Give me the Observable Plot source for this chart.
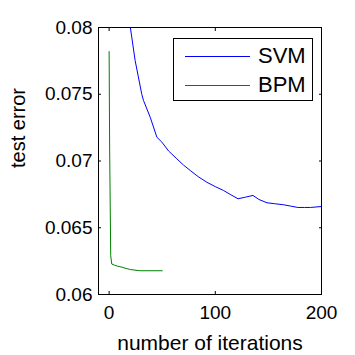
<!DOCTYPE html>
<html>
<head>
<meta charset="utf-8">
<script src="https://cdn.jsdelivr.net/npm/d3@7"></script>
<script src="https://cdn.jsdelivr.net/npm/@observablehq/plot@0.6"></script>
<style>
  html, body { margin: 0; padding: 0; background: #fff; }
  #wrap { position: relative; width: 355px; height: 355px; font-family: "Liberation Sans", Arial, Helvetica, sans-serif; }
  #legend { position: absolute; left: 173px; top: 38px; width: 140px; height: 63px; border: 1px solid #000; background: #fff; box-sizing: border-box; }
  .item { position: absolute; left: 0; height: 28px; width: 100%; }
  .item .ln { position: absolute; left: 11px; width: 65px; height: 0; border-top: 1px solid; top: 50%; }
  .item .tx { position: absolute; left: 84px; font-size: 22px; line-height: 28px; top: 0; color: #000; }
</style>
</head>
<body>
<div id="wrap"></div>
<script>
const xTicks = [0, 100, 200];
const yTicks = [0.06, 0.065, 0.07, 0.075, 0.08];
const yTickLabels = ["0.06", "0.065", "0.07", "0.075", "0.08"];

const svmIter = [20, 24.5, 30.8, 32.4, 38.7, 45, 49.7, 56, 63.8, 70, 76.4, 84, 92, 100, 107.8, 114, 121.4, 128.3, 135.5, 141, 148.7, 156, 164.4, 171, 177.7, 184, 189.6, 200];
const svmErr  = [0.08, 0.07753, 0.07498, 0.07453, 0.07328, 0.07178, 0.07141, 0.07075, 0.07016, 0.06970, 0.06929, 0.06882, 0.06841, 0.06808, 0.06779, 0.06750, 0.06717, 0.06729, 0.06742, 0.06712, 0.06687, 0.06680, 0.06672, 0.06662, 0.06652, 0.06652, 0.06652, 0.06659];

const bpmIter = [0, 0.5, 1.5, 2.5, 5, 8, 12, 16, 20, 29, 50];
const bpmErr  = [0.0782, 0.0709, 0.0629, 0.06228, 0.0622, 0.06212, 0.06205, 0.06195, 0.06187, 0.06178, 0.06178];

const series = [
  {name: "SVM", color: "#0000ff", iter: svmIter, err: svmErr},
  {name: "BPM", color: "#008000", iter: bpmIter, err: bpmErr}
];
const rows = series.flatMap(s => s.iter.map((x, i) => ({series: s.name, x, y: s.err[i]})));

const fmtY = d => yTickLabels[yTicks.indexOf(d)] ?? String(d);

const chart = Plot.plot({
  width: 355,
  height: 355,
  marginLeft: 98,
  marginRight: 34,
  marginTop: 27,
  marginBottom: 61,
  style: {fontFamily: "'Liberation Sans', Arial, Helvetica, sans-serif", background: "#fff", color: "#000"},
  x: {domain: [-10, 200]},
  y: {domain: [0.06, 0.08]},
  color: {domain: series.map(s => s.name), range: series.map(s => s.color)},
  marks: [
    Plot.line(rows, {x: "x", y: "y", z: "series", stroke: "series", strokeWidth: 1, clip: true}),
    Plot.frame({stroke: "#000", strokeWidth: 1}),
    Plot.axisY(yTicks, {anchor: "left", tickSize: 0, tickPadding: 6, tickFormat: fmtY, fontSize: 19, style: {letterSpacing: "1px"}, label: null}),
    Plot.axisY(yTicks, {anchor: "left", tickSize: -3, tickFormat: () => "", label: null}),
    Plot.axisY(yTicks, {anchor: "right", tickSize: -3, tickFormat: () => "", label: null}),
    Plot.axisX(xTicks, {anchor: "bottom", tickSize: 0, tickPadding: 11, tickFormat: d => String(d), fontSize: 19, label: null}),
    Plot.axisX(xTicks, {anchor: "bottom", tickSize: -3, tickFormat: () => "", label: null}),
    Plot.axisX(xTicks, {anchor: "top", tickSize: -3, tickFormat: () => "", label: null}),
    Plot.text(["number of iterations"], {frameAnchor: "bottom", dy: 49, fontSize: 21, text: d => d, lineAnchor: "middle"}),
    Plot.text(["test error"], {frameAnchor: "left", dx: -80, dy: 7, rotate: -90, fontSize: 20, text: d => d, lineAnchor: "middle"})
  ]
});

const wrap = document.getElementById("wrap");
wrap.appendChild(chart);

const legend = document.createElement("div");
legend.id = "legend";
series.forEach((s, i) => {
  const item = document.createElement("div");
  item.className = "item";
  item.style.top = (3 + i * 28.5) + "px";
  item.innerHTML = `<div class="ln" style="border-top-color:${s.color}"></div><div class="tx">${s.name}</div>`;
  legend.appendChild(item);
});
wrap.appendChild(legend);
</script>
</body>
</html>
